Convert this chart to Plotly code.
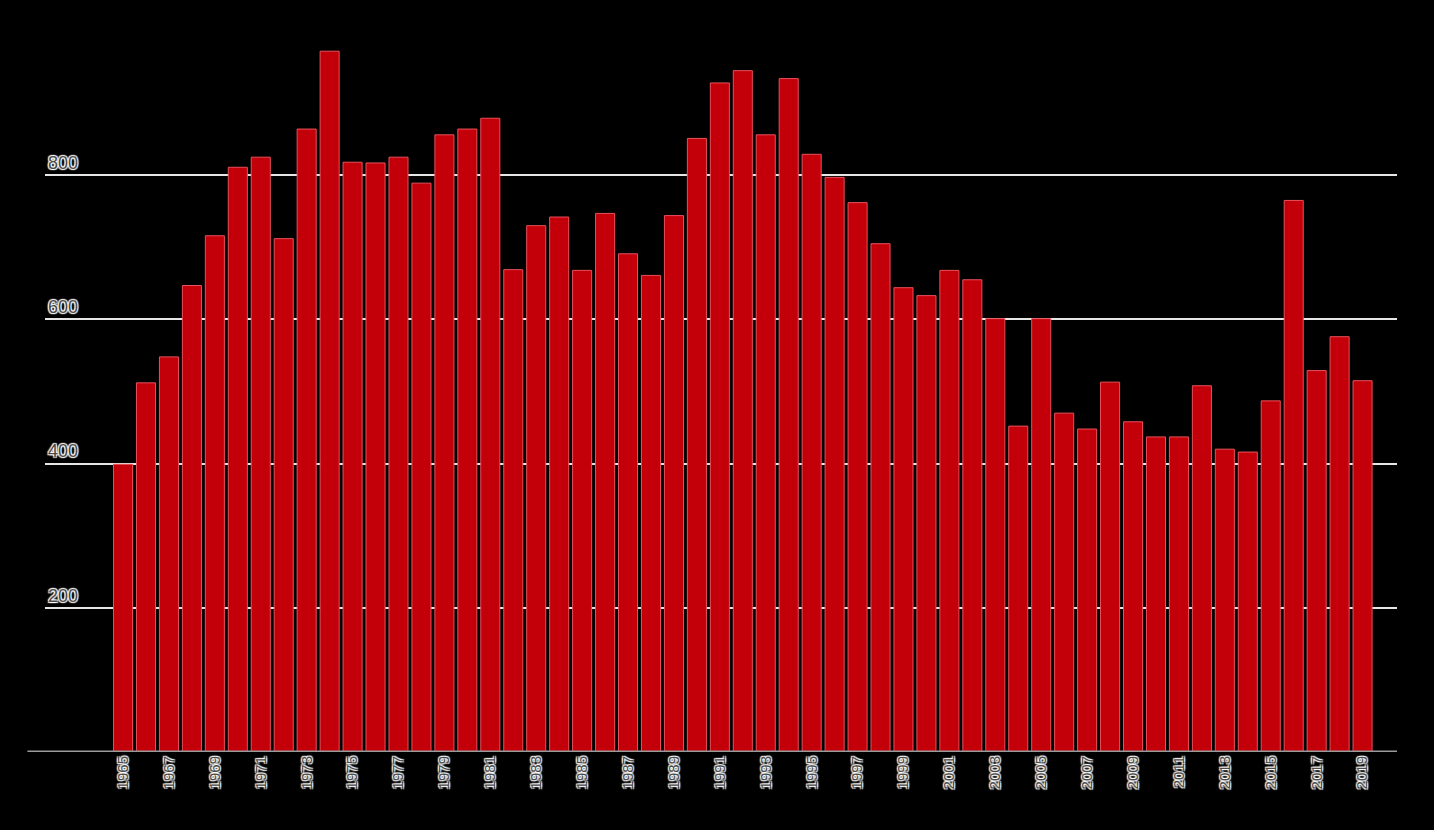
import plotly.graph_objects as go

years = list(range(1965, 2020))
values = [
    399, 512, 548, 647, 716, 811, 825, 712, 864, 972,
    818, 817, 825, 789, 856, 864, 879, 669, 730, 742,
    668, 747, 691, 661, 744, 851, 928, 945, 856, 934,
    829, 797, 762, 705, 644, 633, 668, 655, 601, 452,
    601, 470, 448, 513, 458, 437, 437, 508, 420, 416,
    487, 765, 529, 576, 515,
]
x_tick_years = list(range(1965, 2020, 2))
x_tick_labels = [str(y) for y in x_tick_years]
y_tick_vals = [200, 400, 600, 800]
y_tick_labels = ["200", "400", "600", "800"]

halo = "1px 1px 1px #fff, -1px -1px 1px #fff, 1px -1px 1px #fff, -1px 1px 1px #fff"

fig = go.Figure()
fig.add_trace(go.Bar(
    x=years,
    y=values,
    marker=dict(color="#C3000A", line=dict(color="#E8505A", width=1)),
    showlegend=False,
))

fig.update_layout(
    width=1434,
    height=830,
    paper_bgcolor="#000000",
    plot_bgcolor="#000000",
    margin=dict(l=45, r=37, t=31, b=78),
    bargap=0.17,
    font=dict(family="Liberation Sans, Arial, sans-serif"),
    xaxis=dict(
        range=[1961.6, 2020.5],
        tickmode="array",
        tickvals=x_tick_years,
        ticktext=x_tick_labels,
        tickangle=-90,
        tickfont=dict(size=15, color="#4a4a4a", shadow=halo),
        showgrid=False,
        zeroline=False,
        showline=False,
        ticks="",
        ticklen=0,
    ),
    yaxis=dict(
        range=[0, 1000],
        tickmode="array",
        tickvals=y_tick_vals,
        ticktext=y_tick_labels,
        ticklabelposition="inside top",
        tickfont=dict(size=18, color="#4a4a4a", shadow=halo),
        showgrid=True,
        gridcolor="#e6e6e6",
        gridwidth=2,
        zeroline=False,
        showline=False,
        ticks="",
        layer="below traces",
    ),
    shapes=[dict(
        type="line", xref="paper", yref="y",
        x0=-0.013, x1=1.0, y0=0, y1=0,
        line=dict(color="#9a9a9a", width=3),
    )],
)

fig.write_html(
    "out.html",
    config={"displayModeBar": False},
    post_script="document.body.style.margin='0';document.body.style.background='#000';document.body.style.overflow='hidden';",
)
